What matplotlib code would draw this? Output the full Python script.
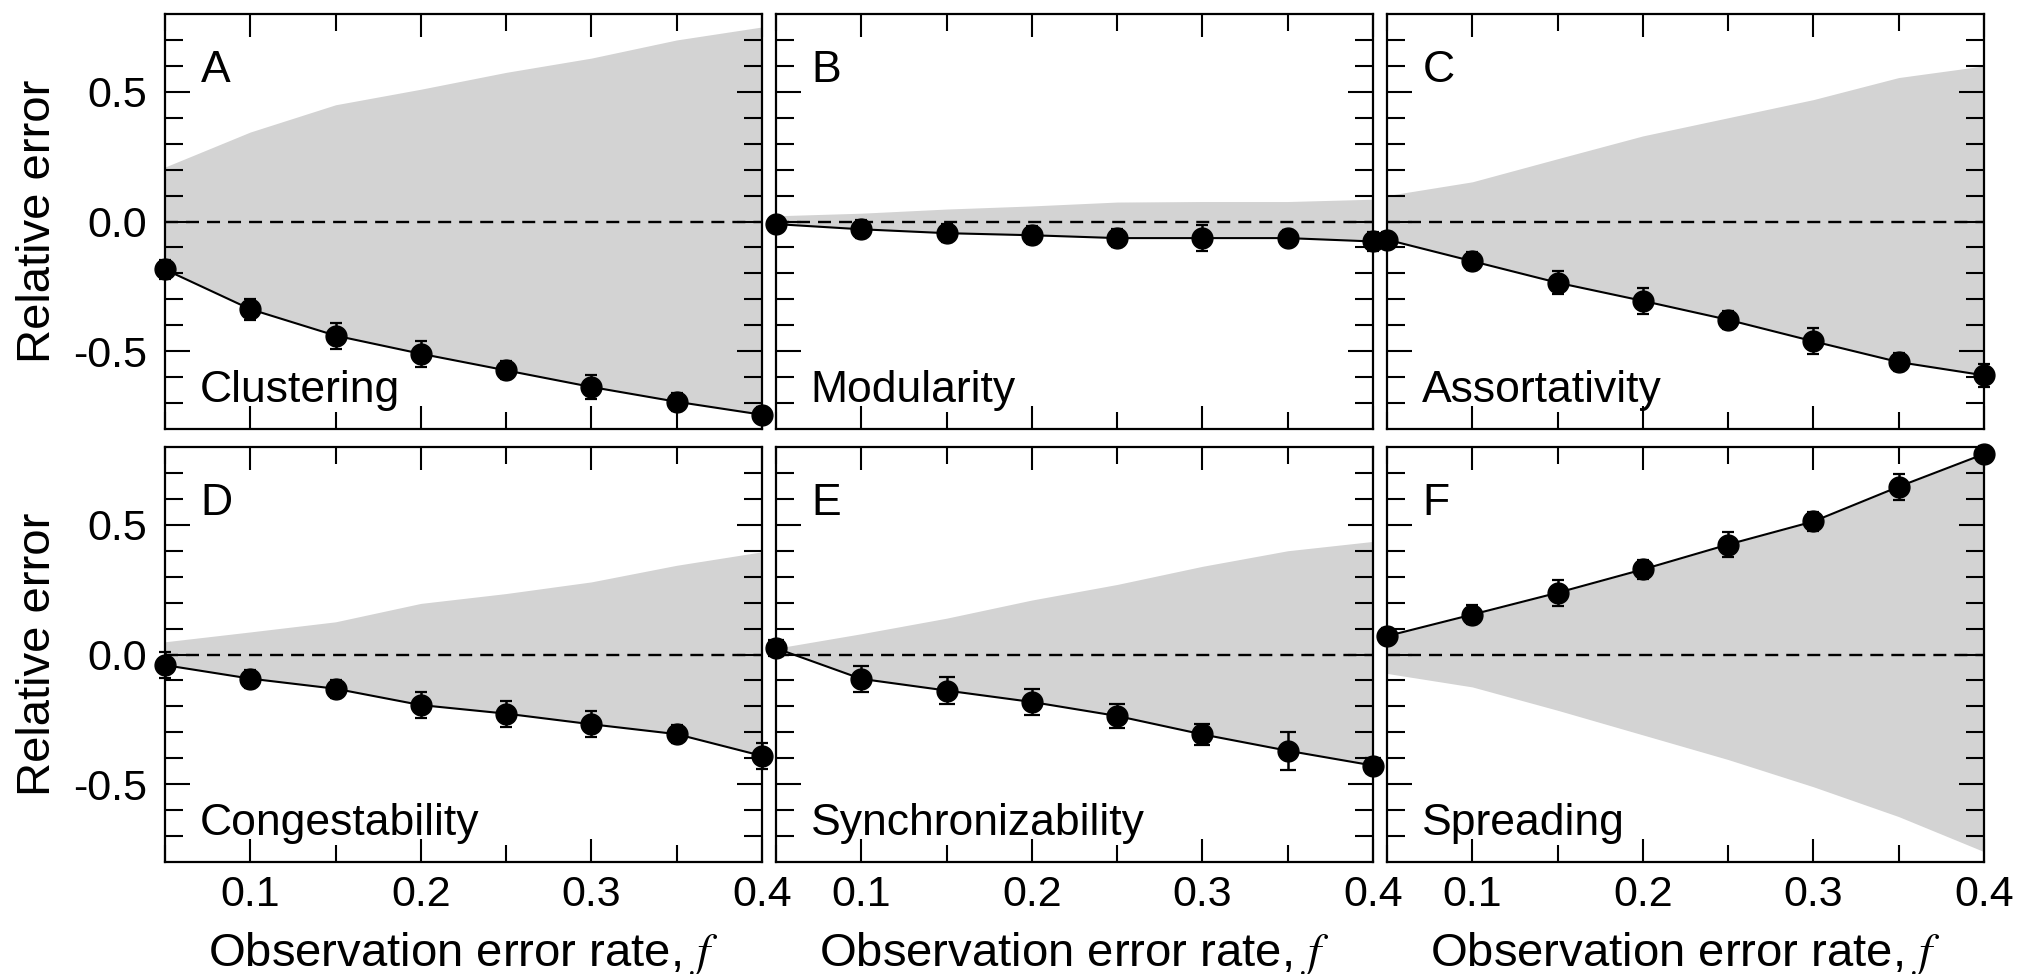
import matplotlib
matplotlib.use("Agg")
import matplotlib.pyplot as plt
from matplotlib.ticker import FixedLocator, NullFormatter, FixedFormatter

plt.rcParams['font.family'] = ['Liberation Sans', 'DejaVu Sans']
plt.rcParams['mathtext.fontset'] = 'stix'
plt.rcParams['axes.unicode_minus'] = False

# ---------------- data ----------------
f_rate = [0.05, 0.10, 0.15, 0.20, 0.25, 0.30, 0.35, 0.40]

panel_letters = ['A', 'B', 'C', 'D', 'E', 'F']
panel_names = ['Clustering', 'Modularity', 'Assortativity',
               'Congestability', 'Synchronizability', 'Spreading']

# mean relative error per panel
clustering        = [-0.185, -0.338, -0.440, -0.510, -0.574, -0.638, -0.695, -0.745]
modularity        = [-0.010, -0.030, -0.045, -0.053, -0.064, -0.064, -0.064, -0.077]
assortativity     = [-0.070, -0.153, -0.236, -0.306, -0.379, -0.462, -0.542, -0.593]
congestability    = [-0.041, -0.093, -0.132, -0.195, -0.228, -0.269, -0.307, -0.391]
synchronizability = [0.024, -0.094, -0.139, -0.183, -0.237, -0.308, -0.371, -0.428]
spreading         = [0.071, 0.154, 0.238, 0.328, 0.424, 0.513, 0.647, 0.773]

# error bars (standard error)
err_clustering        = [0.035, 0.040, 0.050, 0.050, 0.035, 0.045, 0.035, 0.030]
err_modularity        = [0.020, 0.035, 0.035, 0.035, 0.035, 0.050, 0.030, 0.035]
err_assortativity     = [0.030, 0.035, 0.045, 0.050, 0.035, 0.050, 0.035, 0.045]
err_congestability    = [0.050, 0.035, 0.035, 0.050, 0.050, 0.050, 0.035, 0.050]
err_synchronizability = [0.030, 0.050, 0.053, 0.050, 0.047, 0.040, 0.074, 0.030]
err_spreading         = [0.030, 0.035, 0.050, 0.035, 0.050, 0.035, 0.050, 0.030]

# outer edge of the grey region (other edge follows the data)
band_clustering        = [0.21, 0.345, 0.45, 0.51, 0.575, 0.63, 0.70, 0.75]
band_modularity        = [0.022, 0.032, 0.048, 0.060, 0.075, 0.077, 0.077, 0.086]
band_assortativity     = [0.10, 0.153, 0.242, 0.33, 0.40, 0.47, 0.555, 0.60]
band_congestability    = [0.049, 0.087, 0.126, 0.197, 0.235, 0.28, 0.344, 0.396]
band_synchronizability = [0.024, 0.08, 0.14, 0.21, 0.27, 0.34, 0.40, 0.436]
band_spreading         = [-0.073, -0.125, -0.215, -0.31, -0.405, -0.51, -0.625, -0.76]

series = [clustering, modularity, assortativity,
          congestability, synchronizability, spreading]
errors = [err_clustering, err_modularity, err_assortativity,
          err_congestability, err_synchronizability, err_spreading]
bands = [band_clustering, band_modularity, band_assortativity,
         band_congestability, band_synchronizability, band_spreading]

x_major = [0.1, 0.2, 0.3, 0.4]
x_major_labels = ['0.1', '0.2', '0.3', '0.4']
x_minor = [0.05, 0.15, 0.25, 0.35]
y_major = [-0.5, 0.0, 0.5]
y_major_labels = ['-0.5', '0.0', '0.5']
y_minor = [-0.7, -0.6, -0.4, -0.3, -0.2, -0.1, 0.1, 0.2, 0.3, 0.4, 0.6, 0.7]

# ---------------- layout ----------------
W, H = 2022, 974
fig = plt.figure(figsize=(W / 100, H / 100), dpi=100)
left, colw, gap = 165, 597, 14
top, rowh, vgap = 14, 415, 18

tick_fs = 31
text_fs = 32
label_fs = 34

for i in range(6):
    r, c = divmod(i, 3)
    x0 = left + c * (colw + gap)
    y0 = top + r * (rowh + vgap)
    ax = fig.add_axes([x0 / W, 1 - (y0 + rowh) / H, colw / W, rowh / H])

    y = series[i]
    ax.fill_between(f_rate, y, bands[i], color='#d3d3d3', lw=0, zorder=1)
    ax.axhline(0, color='black', lw=1.7, ls=(0, (5.5, 3.4)), zorder=2)
    cap = 6 if i == 4 else 4
    cont = ax.errorbar(f_rate, y, yerr=errors[i], fmt='-o', color='black',
                       ms=15, lw=1.5, elinewidth=1.8, capsize=cap,
                       capthick=1.6, zorder=3)
    for art in cont.get_children():
        art.set_clip_on(False)

    ax.set_xlim(0.05, 0.40)
    ax.set_ylim(-0.8, 0.8)

    ax.xaxis.set_major_locator(FixedLocator(x_major))
    ax.xaxis.set_minor_locator(FixedLocator(x_minor))
    ax.yaxis.set_major_locator(FixedLocator(y_major))
    ax.yaxis.set_minor_locator(FixedLocator(y_minor))
    ax.xaxis.set_minor_formatter(NullFormatter())
    ax.yaxis.set_minor_formatter(NullFormatter())

    if r == 1:
        ax.xaxis.set_major_formatter(FixedFormatter(x_major_labels))
    else:
        ax.xaxis.set_major_formatter(NullFormatter())
    if c == 0:
        ax.yaxis.set_major_formatter(FixedFormatter(y_major_labels))
    else:
        ax.yaxis.set_major_formatter(NullFormatter())

    ax.tick_params(which='both', direction='in', top=True, right=True,
                   width=1.5, labelsize=tick_fs, colors='black')
    ax.tick_params(axis='y', which='major', length=18, pad=13)
    ax.tick_params(axis='y', which='minor', length=13)
    ax.tick_params(axis='x', which='major', length=16.5, pad=9)
    ax.tick_params(axis='x', which='minor', length=12)
    for sp in ax.spines.values():
        sp.set_linewidth(1.6)

    ax.text(0.06, 0.913, panel_letters[i], transform=ax.transAxes,
            fontsize=text_fs, ha='left', va='top')
    ax.text(0.058, 0.065, panel_names[i], transform=ax.transAxes,
            fontsize=text_fs, ha='left', va='baseline')

    if c == 0:
        fig.text(38 / W, 1 - (y0 + rowh / 2) / H, 'Relative error',
                 rotation=90, ha='center', va='center', fontsize=label_fs)
    if r == 1:
        fig.text((x0 + colw / 2) / W, 8 / H, 'Observation error rate, $f$',
                 ha='center', va='baseline', fontsize=label_fs)

fig.savefig('out.png', dpi=100)
